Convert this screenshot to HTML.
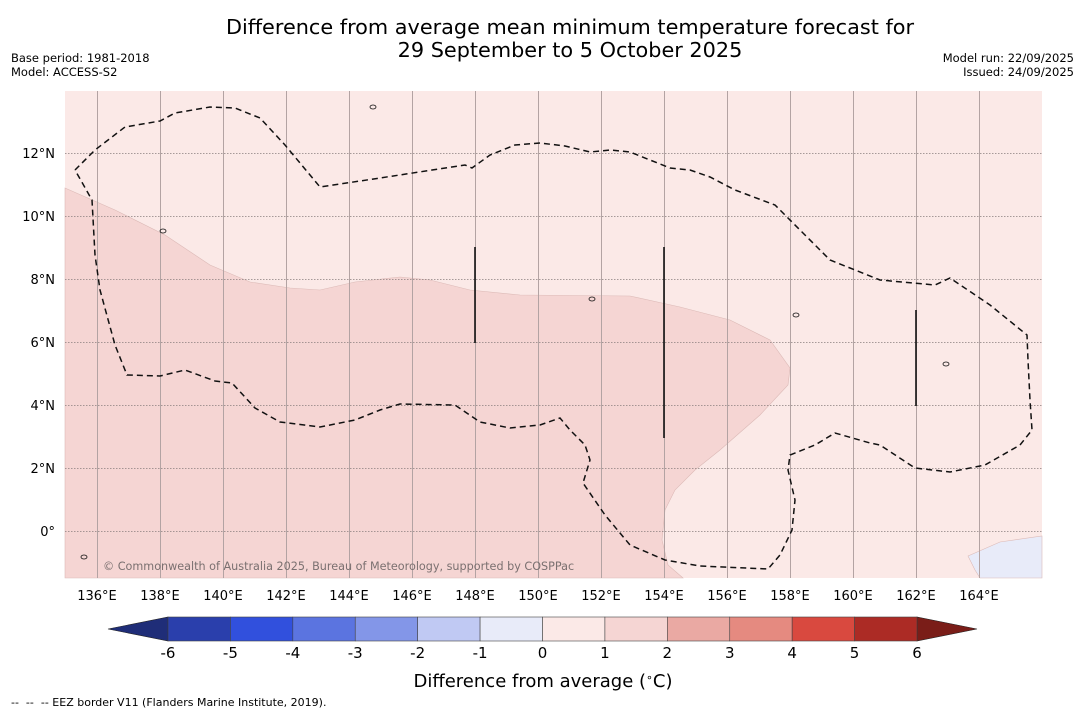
<!DOCTYPE html>
<html><head><meta charset="utf-8"><style>
body{margin:0;background:#fff;width:1085px;height:713px;overflow:hidden;font-family:"Liberation Sans","DejaVu Sans",sans-serif}
svg text{font-family:"DejaVu Sans","Liberation Sans",sans-serif;white-space:pre}
</style></head><body>
<svg id="c" width="1085" height="713" xmlns="http://www.w3.org/2000/svg">
<text x="570" y="34" font-size="20.8" text-anchor="middle">Difference from average mean minimum temperature forecast for</text>
<text x="570" y="57" font-size="20.8" text-anchor="middle">29 September to 5 October 2025</text>
<text x="11" y="62" font-size="11.5">Base period: 1981-2018</text>
<text x="11" y="76" font-size="11.5">Model: ACCESS-S2</text>
<text x="1074" y="62" font-size="11.5" text-anchor="end">Model run: 22/09/2025</text>
<text x="1074" y="76" font-size="11.5" text-anchor="end">Issued: 24/09/2025</text>
<g id="map"></g>
<g id="cbar"></g>
<text x="543" y="687" font-size="18" text-anchor="middle">Difference from average (<tspan font-size="11" dy="-6">∘</tspan><tspan dy="6">C)</tspan></text>
<text x="11" y="706" font-size="11">--  --  -- EEZ border V11 (Flanders Marine Institute, 2019).</text>
</svg>
<script>
const lonTicks=[136,138,140,142,144,146,148,150,152,154,156,158,160,162,164];
const latTicks=[0,2,4,6,8,10,12];
const cbLevels=[-6,-5,-4,-3,-2,-1,0,1,2,3,4,5,6];
const cbColors=["#2a3fac","#3150dd","#5b74e0","#8396e8","#c0c9f3","#e8ebf9","#fbe9e7","#f5d5d3","#eaa9a3","#e58a80","#d9493f","#ac2b25"];
const eezPx=[[75,170],[95,150],[125,127],[160,121],[175,113],[210,107],[235,108],[260,118],[285,145],[320,187],[380,178],[465,165],[472,168],[490,155],[515,145],[540,143],[565,146],[590,152],[610,150],[630,152],[650,160],[670,168],[690,170],[710,177],[735,190],[775,205],[800,230],[830,260],[880,280],[935,285],[950,278],[990,305],[1027,335],[1028,360],[1030,400],[1032,430],[1020,445],[985,465],[950,472],[915,468],[880,445],[870,443],[835,433],[815,445],[790,455],[788,470],[795,500],[792,530],[780,555],[768,569],[700,566],[665,560],[630,545],[605,515],[583,483],[590,460],[585,445],[570,430],[560,418],[540,425],[510,428],[480,422],[455,405],[400,404],[380,410],[355,420],[320,427],[280,422],[255,408],[232,383],[215,381],[185,370],[160,376],[127,375],[115,345],[100,290],[95,255],[92,200],[75,170]];
const warmPx=[[65,188],[115,210],[165,235],[210,265],[250,282],[290,288],[320,290],[355,282],[400,277],[430,280],[470,290],[520,295],[630,296],[680,307],[730,320],[770,340],[790,368],[788,385],[760,415],[720,450],[695,470],[675,490],[665,510],[662,540],[668,565],[683,578],[65,578]];
const coolPx=[[968,556],[1000,542],[1042,536],[1042,578],[980,578],[975,570]];
const lon2x=l=>97+(l-136)*31.5, lat2y=l=>531-l*31.5;
const NS="http://www.w3.org/2000/svg";
function mk(p,t,a){const e=document.createElementNS(NS,t);for(const k in a)e.setAttribute(k,a[k]);p.appendChild(e);return e;}
const map=document.getElementById('map');
const bg=mk(map,'rect',{x:65,y:91,width:977,height:487,fill:'#fbe9e7'});


const pts=a=>a.map(p=>p.join(',')).join(' ');
const w=mk(map,'polygon',{points:pts(warmPx),fill:'#f5d5d3',stroke:'#dcbab7','stroke-width':0.6});


const cl=mk(map,'polygon',{points:pts(coolPx),fill:'#e8ebf9',stroke:'#dcbab7','stroke-width':0.6});


lonTicks.forEach(l=>{const x=Math.round(lon2x(l))+0.5;
 const g=mk(map,'line',{x1:x,x2:x,y1:91,y2:578,stroke:'#b3a3a3','stroke-width':1});
 
 
 const t=mk(document.getElementById('c'),'text',{x:lon2x(l),y:600,'font-size':13,'text-anchor':'middle'});t.textContent=l+'°E';
 
 });
latTicks.forEach(l=>{const y=Math.round(lat2y(l))+0.5;
 const g=mk(map,'line',{x1:65,x2:1042,y1:y,y2:y,stroke:'#8a7f7f','stroke-width':0.8,'stroke-dasharray':'1.5,1.5'});
 
 
 const t=mk(document.getElementById('c'),'text',{x:55,y:lat2y(l)+5,'font-size':13,'text-anchor':'end'});t.textContent=l===0?'0°':l+'°N';
 
 });
const eez=mk(map,'polyline',{points:pts(eezPx),fill:'none',stroke:'#111','stroke-width':1.5,'stroke-dasharray':'6,4'});


[[475,247,343],[664,247,438],[916,310,406]].forEach(v=>{const l=mk(map,'line',{x1:v[0],x2:v[0],y1:v[1],y2:v[2],stroke:'#111','stroke-width':1.6});
 
 });
[[373,107],[163,231],[796,315],[946,364],[592,299],[84,557]].forEach(p=>{const e=mk(map,'ellipse',{cx:p[0],cy:p[1],rx:3,ry:2,fill:'none',stroke:'#111','stroke-width':0.8});
 
 });
const cr=mk(map,'text',{x:103,y:570,'font-size':11.2,fill:'#7a7070'});cr.textContent='© Commonwealth of Australia 2025, Bureau of Meteorology, supported by COSPPac';


const cb=document.getElementById('cbar');
const x0=168,x1=917,cy0=617,cy1=641,step=(x1-x0)/(cbLevels.length-1);
const lt=mk(cb,'polygon',{points:`${x0},${cy0} ${x0},${cy1} 108,629`,fill:'#1f2d78',stroke:'#222','stroke-width':0.6});


const rt=mk(cb,'polygon',{points:`${x1},${cy0} ${x1},${cy1} 977,629`,fill:'#7a1d18',stroke:'#222','stroke-width':0.6});


cbColors.forEach((c,i)=>{const r=mk(cb,'rect',{x:x0+i*step,y:cy0,width:step,height:cy1-cy0,fill:c,stroke:'#444','stroke-width':0.6});
 
 });
cbLevels.forEach((v,i)=>{const t=mk(cb,'text',{x:x0+i*step,y:658,'font-size':15,'text-anchor':'middle'});t.textContent=v;
 
 });
</script>
</body></html>
